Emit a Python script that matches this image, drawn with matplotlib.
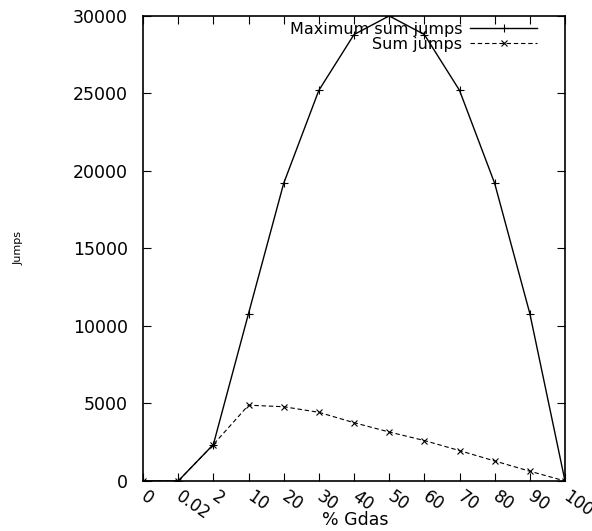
import matplotlib
matplotlib.use('Agg')
import matplotlib.pyplot as plt

# data
gdas_labels = ['0', '0.02', '2', '10', '20', '30', '40', '50', '60', '70', '80', '90', '100']
max_sum_jumps = [0, 0, 2350, 10800, 19200, 25200, 28800, 30000, 28800, 25200, 19200, 10800, 0]
sum_jumps = [0, 0, 2350, 4890, 4790, 4430, 3760, 3160, 2610, 1960, 1290, 630, 0]

plt.rcParams['font.family'] = ['DejaVu Sans']

fig = plt.figure(figsize=(5.92, 5.31), dpi=100)
ax = fig.add_axes([0.2416, 0.0942, 0.9544 - 0.2416, 0.97 - 0.0942])

x = list(range(len(gdas_labels)))
ax.plot(x, max_sum_jumps, color='black', linewidth=1, marker='+', markersize=6,
        markeredgewidth=0.8, label='Maximum sum jumps')
ax.plot(x, sum_jumps, color='black', linewidth=0.8, linestyle=(0, (4, 2.5)), marker='x',
        markersize=5, markeredgewidth=0.8, label='Sum jumps')

ax.set_xlim(0, len(gdas_labels) - 1)
ax.set_ylim(0, 30000)
ax.set_xticks(x)
ax.set_xticklabels(gdas_labels, rotation=-35, ha='left', va='center', rotation_mode='anchor', fontsize=12)
ax.set_yticks(range(0, 30001, 5000))
ax.tick_params(axis='y', labelsize=12.5)
ax.tick_params(direction='in', length=6, width=0.8, top=True, right=True, pad=11)
ax.tick_params(axis='x', pad=10)
for s in ax.spines.values():
    s.set_linewidth(1.2)

ax.set_xlabel('% Gdas', fontsize=12.5, va='center')
ax.xaxis.set_label_coords(0.502, -0.083)
ax.set_ylabel('Jumps', fontsize=8, va='center')
ax.yaxis.set_label_coords(-0.296, 0.5)

leg = ax.legend(loc='upper right', frameon=False, markerfirst=False, fontsize=11.5,
                handlelength=4.2, handletextpad=0.5, labelspacing=0,
                borderpad=0, borderaxespad=0, bbox_to_anchor=(0.934, 0.988))
for t in leg.get_texts():
    t.set_ha('right')

fig.savefig('out.png', dpi=100)
